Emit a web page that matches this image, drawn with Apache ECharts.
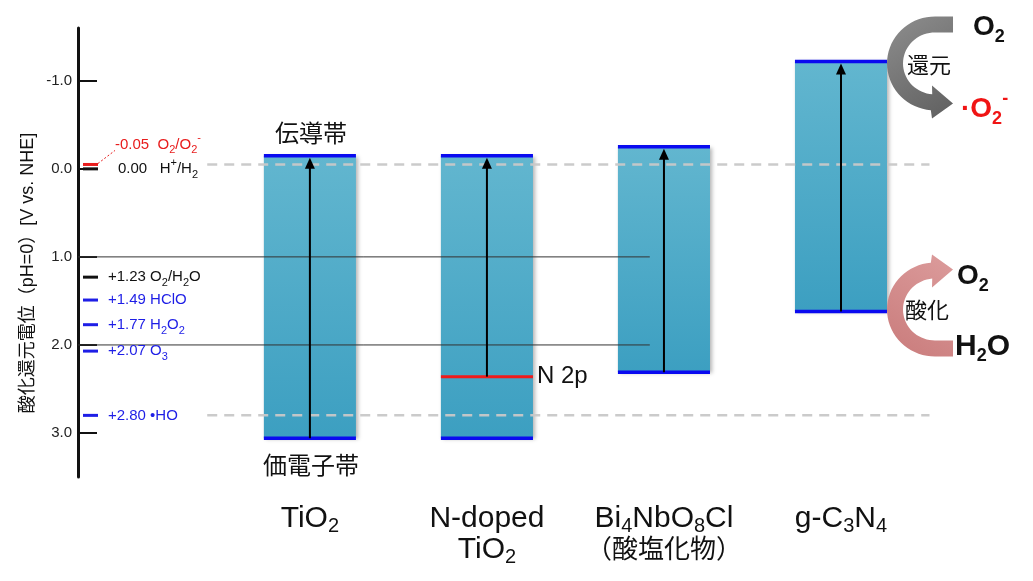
<!DOCTYPE html>
<html>
<head>
<meta charset="utf-8">
<script src="https://cdn.jsdelivr.net/npm/echarts@6/dist/echarts.min.js"></script>
<style>
  html, body { margin: 0; padding: 0; background: #fff; }
  #chart { width: 1033px; height: 581px; }
</style>
</head>
<body>
<div id="chart"></div>
<script>
// Band edges of each photocatalyst, V vs. NHE (pH 0)
const materials = ['TiO2', 'N-doped TiO2', 'Bi4NbO8Cl', 'g-C3N4'];
const materialLabels = ['TiO{s|2}', 'N-doped\nTiO{s|2}', 'Bi{s|4}NbO{s|8}Cl\n{j|（酸塩化物）}', 'g-C{s|3}N{s|4}'];
const conductionBand = [-0.15, -0.15, -0.25, -1.22];
const valenceBand = [3.06, 3.06, 2.31, 1.62];
const dopantLevel = [null, 2.36, null, null];      // N 2p level
const dopantName = 'N 2p';
const edgeNames = { conduction: '伝導帯', valence: '価電子帯' };

// Redox couples on the potential axis
const coupleValues = [-0.05, 0.00, 1.23, 1.49, 1.77, 2.07, 2.80];
const coupleNames = ['O{b|2}/O{b|2}{p|-}', 'H{p|+}/H{b|2}', 'O{b|2}/H{b|2}O', 'HClO', 'H{b|2}O{b|2}', 'O{b|3}', '•HO'];
const coupleKinds = ['superoxide', 'hydrogen', 'water', 'oxidant', 'oxidant', 'oxidant', 'oxidant'];

const guideLevels = [1.0, 2.0];
const dashedLevels = [-0.05, 2.80];
const yTicks = [-1, 0, 1, 2, 3];
const axisTitle = '酸化還元電位（pH=0）[V vs. NHE]';

const FONT = "'Liberation Sans', Arial, 'Noto Sans CJK JP', sans-serif";
const X_MIN = -1.31, X_MAX = 3.6, HALF = 0.26;
const KIND_COLORS = { superoxide: '#e81c1c', hydrogen: '#111', water: '#111', oxidant: '#1e1ee6' };

// sub/superscripts: a tiny line box pushed down/up by padding
const smallRich = {
  b: { fontSize: 11, lineHeight: 2, padding: [12, 0, 0, 0], fontFamily: FONT },
  p: { fontSize: 11, lineHeight: 2, padding: [0, 0, 12, 0], fontFamily: FONT }
};
const bigRich = {
  b: { fontSize: 18, lineHeight: 2, padding: [20, 0, 0, 0], fontFamily: FONT, fontWeight: 'bold' },
  p: { fontSize: 18, lineHeight: 2, padding: [0, 0, 20, 0], fontFamily: FONT, fontWeight: 'bold' }
};

function txt(x, y, text, opts) {
  return {
    type: 'text', x: x, y: y, z2: 12,
    style: Object.assign({
      text: text, fill: '#111', fontSize: 15, fontFamily: FONT,
      align: 'left', verticalAlign: 'middle'
    }, opts || {})
  };
}

function renderBand(params, api) {
  const i = api.value(0);
  const cb = api.value(1), vb = api.value(2);
  const tl = api.coord([i - HALF, cb]);
  const br = api.coord([i + HALF, vb]);
  const cx = api.coord([i, cb])[0];
  const children = [
    {
      type: 'rect', z2: 1,
      shape: { x: tl[0], y: tl[1], width: br[0] - tl[0], height: br[1] - tl[1] },
      style: {
        fill: new echarts.graphic.LinearGradient(0, 0, 0, 1, [
          { offset: 0, color: '#62b6cf' }, { offset: 1, color: '#3c9fc1' }
        ]),
        shadowBlur: 4, shadowOffsetX: 2, shadowOffsetY: 1, shadowColor: 'rgba(0,0,0,0.3)'
      }
    },
    { type: 'line', z2: 10, shape: { x1: tl[0], y1: tl[1], x2: br[0], y2: tl[1] }, style: { stroke: '#0a0af0', lineWidth: 3.5 } },
    { type: 'line', z2: 10, shape: { x1: tl[0], y1: br[1], x2: br[0], y2: br[1] }, style: { stroke: '#0a0af0', lineWidth: 3.5 } }
  ];
  let startY = br[1];
  const lvl = dopantLevel[i];
  if (lvl != null) {
    const ly = api.coord([i, lvl])[1];
    startY = ly;
    children.push({ type: 'line', z2: 10, shape: { x1: tl[0], y1: ly, x2: br[0], y2: ly }, style: { stroke: '#f01a1a', lineWidth: 3 } });
    children.push(txt(br[0] + 4, ly, dopantName, { fontSize: 24 }));
  }
  const tipY = tl[1] + 2;
  children.push({ type: 'line', z2: 11, shape: { x1: cx, y1: startY, x2: cx, y2: tipY + 9 }, style: { stroke: '#000', lineWidth: 2 } });
  children.push({ type: 'polygon', z2: 11, shape: { points: [[cx, tipY], [cx - 5, tipY + 11], [cx + 5, tipY + 11]] }, style: { fill: '#000' } });
  if (i === 0) {
    children.push(txt(cx + 1, tl[1] - 20, edgeNames.conduction, { fontSize: 24, align: 'center' }));
    children.push(txt(cx + 1, br[1] + 29, edgeNames.valence, { fontSize: 24, align: 'center' }));
  }
  return { type: 'group', children: children };
}

function renderCouple(params, api) {
  const v = api.value(0);
  const i = params.dataIndex;
  const p = api.coord([X_MIN, v]);
  const color = KIND_COLORS[coupleKinds[i]];
  const children = [
    { type: 'line', z2: 10, shape: { x1: p[0] + 5, y1: p[1], x2: p[0] + 20, y2: p[1] }, style: { stroke: color, lineWidth: 3 } }
  ];
  const value = v > 0 ? '+' + v.toFixed(2) : v.toFixed(2);
  let tx = p[0] + 30, ty = p[1], sep = ' ';
  if (v < 0) {
    tx = p[0] + 37; ty = p[1] - 20; sep = '  ';
    children.push({
      type: 'line', z2: 10,
      shape: { x1: p[0] + 20, y1: p[1] - 1, x2: tx, y2: ty + 6 },
      style: { stroke: color, lineWidth: 1, lineDash: [2, 2] }
    });
  } else if (v === 0) {
    tx = p[0] + 40; sep = '   ';
  }
  children.push(txt(tx, ty, value + sep + coupleNames[i], { fill: color, fontSize: 15, lineHeight: 18, rich: smallRich }));
  return { type: 'group', children: children };
}

function renderGuide(params, api) {
  const a = api.coord([X_MIN, api.value(0)]);
  const b = api.coord([1.92, api.value(0)]);
  return { type: 'line', z2: 5, shape: { x1: a[0], y1: a[1], x2: b[0], y2: b[1] }, style: { stroke: '#333', lineWidth: 1 } };
}

function renderDashed(params, api) {
  const a = api.coord([-0.58, api.value(0)]);
  const b = api.coord([3.5, api.value(0)]);
  return { type: 'line', z2: 5, shape: { x1: a[0], y1: a[1], x2: b[0], y2: b[1] }, style: { stroke: 'rgba(200,200,200,0.95)', lineWidth: 2.5, lineDash: [10, 7] } };
}

// curved reaction arrow, built around the band corner it starts from
function arcArrow(ox, oy, flip) {
  const s = flip ? -1 : 1;
  const pts = [[66, -45 * s]];
  for (let t = 270; t >= 95; t -= 5) {
    const r = t * Math.PI / 180;
    pts.push([48 + 48 * Math.cos(r), (2 + 47 * Math.sin(r)) * s]);
  }
  pts.push([45, 57 * s], [66, 42 * s], [45, 24 * s]);
  for (let t = 95; t <= 270; t += 5) {
    const r = t * Math.PI / 180;
    pts.push([48 + 32 * Math.cos(r), (2 + 31 * Math.sin(r)) * s]);
  }
  pts.push([66, -29 * s]);
  return pts.map(q => [ox + q[0], oy + q[1]]);
}

function renderReactions(params, api) {
  const i = api.value(0);
  const c = api.coord([i + HALF, api.value(1)]);
  const v = api.coord([i + HALF, api.value(2)]);
  const bold = { fontSize: 28, fontWeight: 'bold', lineHeight: 32, rich: bigRich };
  return {
    type: 'group',
    children: [
      {
        type: 'polygon', z2: 8, shape: { points: arcArrow(c[0], c[1], false) },
        style: { fill: new echarts.graphic.LinearGradient(0, 0, 1, 1, [
          { offset: 0, color: '#8e8e8e' }, { offset: 1, color: '#5f5f5f' }
        ]) }
      },
      {
        type: 'polygon', z2: 8, shape: { points: arcArrow(v[0], v[1], true) },
        style: { fill: new echarts.graphic.LinearGradient(0, 1, 1, 0, [
          { offset: 0, color: '#c97b7b' }, { offset: 1, color: '#dc9c9c' }
        ]) }
      },
      txt(c[0] + 86, c[1] - 34, 'O{b|2}', bold),
      txt(c[0] + 20, c[1] + 5, '還元', { fontSize: 22 }),
      txt(c[0] + 74, c[1] + 48, '·O{b|2}{p|-}', Object.assign({}, bold, { fill: '#f01414' })),
      txt(v[0] + 70, v[1] - 35, 'O{b|2}', bold),
      txt(v[0] + 18, v[1], '酸化', { fontSize: 22 }),
      txt(v[0] + 68, v[1] + 35, 'H{b|2}O', Object.assign({}, bold, { fontSize: 30 }))
    ]
  };
}

const chart = echarts.init(document.getElementById('chart'), null, { renderer: 'canvas' });
const last = materials.length - 1;

chart.setOption({
  animation: false,
  backgroundColor: '#fff',
  grid: { left: 78, right: 85.8, top: 28, bottom: 104 },
  xAxis: {
    type: 'value', min: X_MIN, max: X_MAX,
    axisLine: { show: false, onZero: false }, axisTick: { show: false }, splitLine: { show: false },
    axisLabel: {
      customValues: materials.map((m, i) => i),
      margin: 26, color: '#111', fontSize: 30, lineHeight: 31, fontFamily: FONT,
      formatter: v => materialLabels[v],
      rich: {
        s: { fontSize: 20, lineHeight: 4, padding: [16, 0, 0, 0], fontFamily: FONT, color: '#111' },
        j: { fontSize: 26, lineHeight: 33, fontFamily: FONT, color: '#111' }
      }
    }
  },
  yAxis: {
    type: 'value', inverse: true, min: -1.6, max: 3.5,
    splitLine: { show: false },
    axisLine: { show: true, onZero: false, lineStyle: { color: '#111', width: 3 } },
    axisTick: { show: true, inside: true, length: 19, customValues: yTicks, lineStyle: { color: '#111', width: 2 } },
    axisLabel: { customValues: yTicks, margin: 6, color: '#222', fontSize: 15, fontFamily: FONT, formatter: v => v.toFixed(1) }
  },
  graphic: [{
    type: 'text', x: 28, y: 273, rotation: Math.PI / 2,
    style: { text: axisTitle, fill: '#111', fontSize: 18, fontFamily: FONT, align: 'center', verticalAlign: 'middle' }
  }],
  series: [
    {
      type: 'custom', name: 'bands', renderItem: renderBand,
      encode: { x: 0, y: [1, 2] },
      data: materials.map((m, i) => [i, conductionBand[i], valenceBand[i]])
    },
    {
      type: 'custom', name: 'couples', renderItem: renderCouple,
      encode: { y: 0 },
      data: coupleValues.map(v => [v])
    },
    {
      type: 'custom', name: 'guides', renderItem: renderGuide,
      encode: { y: 0 },
      data: guideLevels.map(v => [v])
    },
    {
      type: 'custom', name: 'dashed', renderItem: renderDashed,
      encode: { y: 0 },
      data: dashedLevels.map(v => [v])
    },
    {
      type: 'custom', name: 'reactions', renderItem: renderReactions,
      encode: { x: 0, y: [1, 2] },
      data: [[last, conductionBand[last], valenceBand[last]]]
    }
  ]
});
</script>
</body>
</html>
